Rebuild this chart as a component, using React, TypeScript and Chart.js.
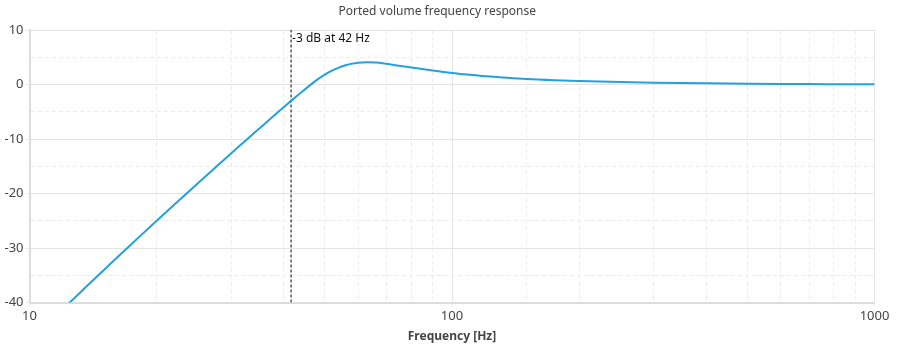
import React, { useEffect, useRef } from "react";
import { Chart, registerables } from "chart.js";

Chart.register(...registerables);

const chartTitle = "Ported volume frequency response";
const xAxisTitle = "Frequency [Hz]";
const frequencies = [
  12, 13, 14, 15, 16, 17, 18, 20, 22, 25, 28, 30, 32, 34, 36, 38, 40, 42, 44, 46,
  48, 50, 52, 54, 56, 58, 60, 63, 66, 70, 75, 81, 90, 100, 110, 123, 135, 150,
  175, 200, 250, 300, 400, 500, 600, 700, 800, 1000,
];
const responseDb = [
  -41.2, -38.61, -36.24, -34.03, -31.99, -30.08, -28.28, -25.0, -22.06, -18.15,
  -14.71, -12.64, -10.72, -8.92, -7.24, -5.65, -4.15, -2.73, -1.42, -0.2, 0.89,
  1.8, 2.54, 3.1, 3.53, 3.83, 4.01, 4.1, 4.05, 3.8, 3.45, 3.08, 2.58, 2.13, 1.8,
  1.45, 1.22, 1.0, 0.78, 0.64, 0.46, 0.34, 0.21, 0.145, 0.105, 0.08, 0.062, 0.04,
];
const cutoffFrequency = 41.6;
const cutoffLabel = "-3 dB at 42 Hz";
const xTickLabels = [10, 100, 1000];
const yTickLabels = [-40, -30, -20, -10, 0, 10];
const xRange = [10, 1000];
const yRange = [-40, 10];

const FONT = "'Noto Sans', 'Open Sans', sans-serif";
const MAJOR_GRID = "#e4e4e4";
const MINOR_GRID = "#ececec";

const isMajorX = (v: number) => xTickLabels.some((t) => Math.abs(t - v) < 1e-6);
const isMajorY = (v: number) => yTickLabels.some((t) => Math.abs(t - v) < 1e-6);

const cutoffLabelPlugin = {
  id: "cutoffLabel",
  afterDatasetsDraw(chart: any) {
    const { ctx, scales } = chart;
    const x = scales.x.getPixelForValue(cutoffFrequency);
    const y = scales.y.getPixelForValue(yRange[1]);
    ctx.save();
    ctx.font = `12px ${FONT}`;
    ctx.fillStyle = "#111";
    ctx.textAlign = "left";
    ctx.textBaseline = "middle";
    ctx.fillText(cutoffLabel, x + 1, y + 9);
    ctx.restore();
  },
};

export default function App() {
  const canvasRef = useRef<HTMLCanvasElement | null>(null);

  useEffect(() => {
    document.body.style.margin = "0";
    const canvas = canvasRef.current;
    if (!canvas) return;
    const chart = new Chart(canvas, {
      type: "line",
      data: {
        datasets: [
          {
            label: "Response",
            data: frequencies.map((f, i) => ({ x: f, y: responseDb[i] })),
            borderColor: "#22a0e0",
            borderWidth: 2,
            pointRadius: 0,
            cubicInterpolationMode: "monotone",
            fill: false,
          },
          {
            label: "Cutoff",
            data: [
              { x: cutoffFrequency, y: yRange[0] },
              { x: cutoffFrequency, y: yRange[1] },
            ],
            borderColor: "#000",
            borderWidth: 1,
            borderDash: [3, 2],
            pointRadius: 0,
            fill: false,
          },
        ],
      },
      options: {
        responsive: false,
        animation: false,
        events: [],
        layout: { padding: { left: 0, right: 24.5, top: 0, bottom: 0 } },
        plugins: {
          legend: { display: false },
          tooltip: { enabled: false },
          title: {
            display: true,
            text: chartTitle,
            color: "#444",
            font: { family: FONT, size: 12, weight: "normal" },
            padding: { top: 4.5, bottom: 11.1 },
          },
        },
        scales: {
          x: {
            type: "logarithmic",
            min: xRange[0],
            max: xRange[1],
            afterFit: (s: any) => {
              s.height = 50.5;
            },
            border: {
              display: true,
              color: "#dddddd",
              width: 2,
              dash: (ctx: any) => (ctx.tick && !isMajorX(ctx.tick.value) ? [4, 3] : []),
            },
            grid: {
              color: (ctx: any) => (ctx.tick && isMajorX(ctx.tick.value) ? MAJOR_GRID : MINOR_GRID),
              tickColor: (ctx: any) => (ctx.tick && isMajorX(ctx.tick.value) ? MAJOR_GRID : "rgba(0,0,0,0)"),
              tickLength: 3,
              lineWidth: 1,
            },
            ticks: {
              autoSkip: false,
              maxRotation: 0,
              padding: 3,
              color: "#444",
              font: { family: FONT, size: 13 },
              callback: (v: any) => (isMajorX(Number(v)) ? String(v) : ""),
            },
            title: {
              display: true,
              text: xAxisTitle,
              color: "#444",
              font: { family: FONT, size: 12, weight: "bold" },
              padding: { top: 5, bottom: 9 },
            },
          },
          y: {
            type: "linear",
            min: yRange[0],
            max: yRange[1],
            afterFit: (s: any) => {
              s.width = 29.5;
            },
            border: {
              display: true,
              color: "#dddddd",
              width: 2,
              dash: (ctx: any) => (ctx.tick && !isMajorY(ctx.tick.value) ? [4, 3] : []),
            },
            grid: {
              color: (ctx: any) => (ctx.tick && isMajorY(ctx.tick.value) ? MAJOR_GRID : MINOR_GRID),
              tickColor: (ctx: any) => (ctx.tick && isMajorY(ctx.tick.value) ? MAJOR_GRID : "rgba(0,0,0,0)"),
              tickLength: 3,
              lineWidth: 1,
            },
            ticks: {
              stepSize: 5,
              autoSkip: false,
              padding: 3,
              color: "#444",
              font: { family: FONT, size: 13 },
              callback: (v: any) => (isMajorY(Number(v)) ? String(v) : ""),
            },
          },
        },
      },
      plugins: [cutoffLabelPlugin],
    } as any);
    return () => chart.destroy();
  }, []);

  return (
    <div style={{ width: 899, height: 353 }}>
      <canvas ref={canvasRef} width={899} height={353} style={{ display: "block" }} />
    </div>
  );
}
